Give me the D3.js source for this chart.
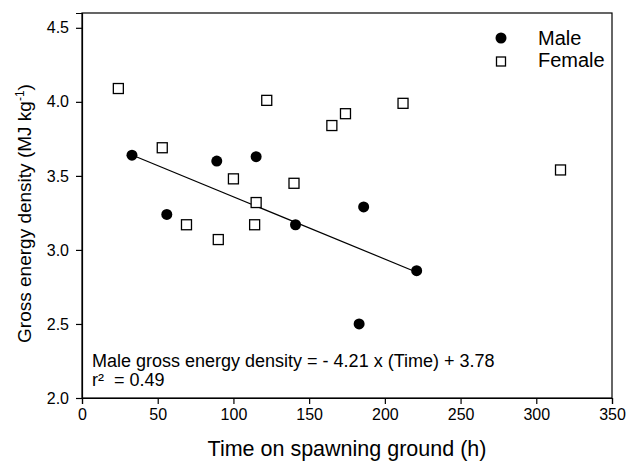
<!DOCTYPE html>
<html>
<head>
<meta charset="utf-8">
<script src="https://cdn.jsdelivr.net/npm/d3@7"></script>
<style>
  body { margin: 0; background: #fff; }
  svg text { font-family: "Liberation Sans", Arial, sans-serif; fill: #000; }
</style>
</head>
<body>
<div id="chart"></div>
<script>
// data
const maleTime = [33, 56, 89, 115, 141, 183, 186, 221];
const maleEnergy = [3.64, 3.24, 3.60, 3.63, 3.17, 2.50, 3.29, 2.86];
const femaleTime = [24, 53, 69, 90, 100, 114, 115, 122, 140, 165, 174, 212, 316];
const femaleEnergy = [4.09, 3.69, 3.17, 3.07, 3.48, 3.17, 3.32, 4.01, 3.45, 3.84, 3.92, 3.99, 3.54];

// male regression: energy = intercept + slope * time
const fitSlope = -0.00421;
const fitIntercept = 3.78;
const fitRange = [33, 221];

const xTicks = [0, 50, 100, 150, 200, 250, 300, 350];
const yTicks = [2.0, 2.5, 3.0, 3.5, 4.0, 4.5];

const width = 632;
const height = 463;
const margin = { top: 13, right: 20, bottom: 65, left: 82 };

const svg = d3.select("#chart").append("svg")
    .attr("width", width)
    .attr("height", height);

const x = d3.scaleLinear().domain([0, 350]).range([margin.left, width - margin.right]);
const y = d3.scaleLinear().domain([2.0, 4.6]).range([height - margin.bottom, margin.top]);

// frame
svg.append("rect")
    .attr("x", x(0))
    .attr("y", y(4.6))
    .attr("width", x(350) - x(0))
    .attr("height", y(2.0) - y(4.6))
    .attr("fill", "none")
    .attr("stroke", "#000")
    .attr("stroke-width", 1.2);

// axes
const xAxis = svg.append("g")
    .attr("transform", `translate(0,${y(2.0)})`)
    .call(d3.axisBottom(x).tickValues(xTicks).tickSize(6).tickPadding(5).tickFormat(d3.format("d")));

const yAxis = svg.append("g")
    .attr("transform", `translate(${x(0)},0)`)
    .call(d3.axisLeft(y).tickValues(yTicks).tickSize(6).tickPadding(7).tickFormat(d3.format(".1f")));

[xAxis, yAxis].forEach(a => {
    a.select(".domain").attr("stroke", "#000").attr("stroke-width", 1.2);
    a.selectAll(".tick line").attr("stroke", "#000").attr("stroke-width", 1.2);
    a.selectAll(".tick text")
        .style("font-family", '"Liberation Sans", Arial, sans-serif')
        .style("font-size", "16px")
        .attr("fill", "#000");
});

// axis titles
svg.append("text")
    .attr("x", (x(0) + x(350)) / 2)
    .attr("y", 456)
    .attr("text-anchor", "middle")
    .style("font-size", "21.5px")
    .text("Time on spawning ground (h)");

const yTitle = svg.append("text")
    .attr("transform", `translate(31,${(y(2.0) + y(4.6)) / 2 + 8}) rotate(-90)`)
    .attr("text-anchor", "middle")
    .style("font-size", "19px");
yTitle.append("tspan").text("Gross energy density (MJ kg");
yTitle.append("tspan").attr("dy", -7).style("font-size", "12px").text("-1");
yTitle.append("tspan").attr("dy", 7).text(")");

// regression line
svg.append("line")
    .attr("x1", x(fitRange[0]))
    .attr("y1", y(fitIntercept + fitSlope * fitRange[0]))
    .attr("x2", x(fitRange[1]))
    .attr("y2", y(fitIntercept + fitSlope * fitRange[1]))
    .attr("stroke", "#000")
    .attr("stroke-width", 1.2);

// female squares
const sq = 10;
svg.selectAll(".female")
    .data(femaleTime.map((t, i) => [t, femaleEnergy[i]]))
    .enter().append("rect")
    .attr("class", "female")
    .attr("x", d => x(d[0]) - sq / 2)
    .attr("y", d => y(d[1]) - sq / 2)
    .attr("width", sq)
    .attr("height", sq)
    .attr("fill", "#fff")
    .attr("stroke", "#000")
    .attr("stroke-width", 1.3);

// male circles
svg.selectAll(".male")
    .data(maleTime.map((t, i) => [t, maleEnergy[i]]))
    .enter().append("circle")
    .attr("class", "male")
    .attr("cx", d => x(d[0]))
    .attr("cy", d => y(d[1]))
    .attr("r", 5.5)
    .attr("fill", "#000");

// legend
const legend = svg.append("g");
legend.append("circle").attr("cx", 501).attr("cy", 38).attr("r", 5.5).attr("fill", "#000");
legend.append("text").attr("x", 538).attr("y", 45).style("font-size", "20px").text("Male");
legend.append("rect").attr("x", 496.5).attr("y", 57).attr("width", 9).attr("height", 9)
    .attr("fill", "#fff").attr("stroke", "#000").attr("stroke-width", 1.3);
legend.append("text").attr("x", 538).attr("y", 67).style("font-size", "20px").text("Female");

// equation
svg.append("text")
    .attr("x", 92)
    .attr("y", 367)
    .style("font-size", "18px")
    .text("Male gross energy density = - 4.21 x (Time) + 3.78");
svg.append("text")
    .attr("x", 92)
    .attr("y", 386)
    .style("font-size", "18px")
    .style("white-space", "pre")
    .text("r\u00B2  = 0.49");
</script>
</body>
</html>
